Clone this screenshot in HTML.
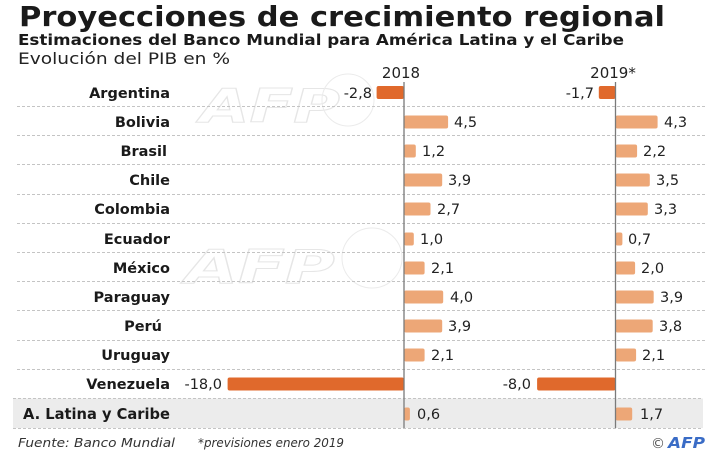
<!DOCTYPE html>
<html><head><meta charset="utf-8"><style>
html,body{margin:0;padding:0;background:#fff;}
svg{display:block;}
</style></head><body>
<svg width="720" height="453" viewBox="0 0 720 453" xmlns="http://www.w3.org/2000/svg" font-family="'DejaVu Sans','Liberation Sans',sans-serif">
<rect width="720" height="453" fill="#fff"/>
<!-- watermarks -->
<g fill="none" stroke="#e6e6e6" stroke-width="1" font-weight="bold" font-style="italic" font-size="46">
<text x="200" y="122" textLength="140" lengthAdjust="spacingAndGlyphs">AFP</text>
<text x="185" y="283" textLength="150" lengthAdjust="spacingAndGlyphs">AFP</text>
</g>
<g fill="none" stroke="#ebebeb" stroke-width="1">
<circle cx="348" cy="100" r="26"/><circle cx="372" cy="258" r="30"/>
</g>
<!-- title -->
<text x="19" y="26" font-size="28" font-weight="bold" fill="#1a1a1a" textLength="646" lengthAdjust="spacingAndGlyphs">Proyecciones de crecimiento regional</text>
<text x="18" y="45" font-size="15.5" font-weight="bold" fill="#1a1a1a" textLength="606" lengthAdjust="spacingAndGlyphs">Estimaciones del Banco Mundial para América Latina y el Caribe</text>
<text x="18" y="64" font-size="16" fill="#222" textLength="212" lengthAdjust="spacingAndGlyphs">Evolución del PIB en %</text>
<text x="401" y="78" font-size="15" fill="#222" text-anchor="middle">2018</text>
<text x="613" y="78" font-size="15" fill="#222" text-anchor="middle">2019*</text>
<!-- band -->
<rect x="13" y="398.5" width="690" height="29.5" fill="#ececec"/>
<!-- separators -->
<g stroke="#c4c4c4" stroke-width="1" stroke-dasharray="3,2">
<line x1="17" x2="705" y1="106.5" y2="106.5"/>
<line x1="17" x2="705" y1="135.5" y2="135.5"/>
<line x1="17" x2="705" y1="164.5" y2="164.5"/>
<line x1="17" x2="705" y1="194.5" y2="194.5"/>
<line x1="17" x2="705" y1="223.5" y2="223.5"/>
<line x1="17" x2="705" y1="252.5" y2="252.5"/>
<line x1="17" x2="705" y1="281.5" y2="281.5"/>
<line x1="17" x2="705" y1="310.5" y2="310.5"/>
<line x1="17" x2="705" y1="340.5" y2="340.5"/>
<line x1="17" x2="705" y1="369.5" y2="369.5"/>
<line x1="13" x2="703" y1="398.5" y2="398.5"/>
<line x1="13" x2="703" y1="428.5" y2="428.5"/>
</g>
<!-- bars 2018 (axis 404, 9.8px/unit) -->
<g fill="#eda777">
<rect x="404" y="115.5" width="44.1" height="13" rx="2"/>
<rect x="404" y="144.5" width="11.8" height="13" rx="2"/>
<rect x="404" y="173.5" width="38.2" height="13" rx="2"/>
<rect x="404" y="202.5" width="26.5" height="13" rx="2"/>
<rect x="404" y="232.5" width="9.8" height="13" rx="2"/>
<rect x="404" y="261.5" width="20.6" height="13" rx="2"/>
<rect x="404" y="290.5" width="39.2" height="13" rx="2"/>
<rect x="404" y="319.5" width="38.2" height="13" rx="2"/>
<rect x="404" y="348.5" width="20.6" height="13" rx="2"/>
<rect x="404" y="407.5" width="5.9" height="13" rx="2"/>
<!-- 2019 (axis 615.5) -->
<rect x="615.5" y="115.5" width="42.1" height="13" rx="2"/>
<rect x="615.5" y="144.5" width="21.6" height="13" rx="2"/>
<rect x="615.5" y="173.5" width="34.3" height="13" rx="2"/>
<rect x="615.5" y="202.5" width="32.3" height="13" rx="2"/>
<rect x="615.5" y="232.5" width="6.9" height="13" rx="2"/>
<rect x="615.5" y="261.5" width="19.6" height="13" rx="2"/>
<rect x="615.5" y="290.5" width="38.2" height="13" rx="2"/>
<rect x="615.5" y="319.5" width="37.2" height="13" rx="2"/>
<rect x="615.5" y="348.5" width="20.6" height="13" rx="2"/>
<rect x="615.5" y="407.5" width="16.7" height="13" rx="2"/>
</g>
<g fill="#e0692c">
<rect x="376.6" y="86" width="27.4" height="13" rx="2"/>
<rect x="227.6" y="377.5" width="176.4" height="13" rx="2"/>
<rect x="598.8" y="86" width="16.7" height="13" rx="2"/>
<rect x="537.1" y="377.5" width="78.4" height="13" rx="2"/>
</g>
<!-- axes -->
<line x1="404" x2="404" y1="82" y2="428" stroke="#7a7a7a" stroke-width="1.3"/>
<line x1="615.5" x2="615.5" y1="82" y2="428" stroke="#7a7a7a" stroke-width="1.3"/>
<!-- country labels -->
<g font-size="14.5" font-weight="bold" fill="#1a1a1a" text-anchor="end">
<text x="170" y="98">Argentina</text>
<text x="170" y="127">Bolivia</text>
<text x="167" y="156">Brasil</text>
<text x="170" y="185">Chile</text>
<text x="170" y="214">Colombia</text>
<text x="170" y="244">Ecuador</text>
<text x="170" y="273">México</text>
<text x="170" y="302">Paraguay</text>
<text x="162" y="331">Perú</text>
<text x="170" y="360">Uruguay</text>
<text x="170" y="389">Venezuela</text>
</g>
<text x="23" y="419" font-size="15" font-weight="bold" fill="#1a1a1a" textLength="147" lengthAdjust="spacingAndGlyphs">A. Latina y Caribe</text>
<!-- values -->
<g font-size="14.5" fill="#222">
<text x="372" y="98" text-anchor="end">-2,8</text>
<text x="222" y="389" text-anchor="end">-18,0</text>
<text x="594" y="98" text-anchor="end">-1,7</text>
<text x="531" y="389" text-anchor="end">-8,0</text>
<text x="454" y="127">4,5</text>
<text x="422" y="156">1,2</text>
<text x="448" y="185">3,9</text>
<text x="437" y="214">2,7</text>
<text x="420" y="244">1,0</text>
<text x="431" y="273">2,1</text>
<text x="450" y="302">4,0</text>
<text x="448" y="331">3,9</text>
<text x="431" y="360">2,1</text>
<text x="417" y="419">0,6</text>
<text x="664" y="127">4,3</text>
<text x="643" y="156">2,2</text>
<text x="656" y="185">3,5</text>
<text x="654" y="214">3,3</text>
<text x="628" y="244">0,7</text>
<text x="641" y="273">2,0</text>
<text x="660" y="302">3,9</text>
<text x="659" y="331">3,8</text>
<text x="642" y="360">2,1</text>
<text x="640" y="419">1,7</text>
</g>
<!-- footer -->
<g font-size="12.5" font-style="italic" fill="#333">
<text x="18" y="447" textLength="157" lengthAdjust="spacingAndGlyphs">Fuente: Banco Mundial</text>
<text x="198" y="447" textLength="146" lengthAdjust="spacingAndGlyphs">*previsiones enero 2019</text>
</g>
<text x="651" y="448" font-size="14" fill="#555">©</text>
<text x="668" y="448" font-size="15" font-weight="bold" font-style="italic" fill="#3a6cc6" textLength="37" lengthAdjust="spacingAndGlyphs">AFP</text>
</svg>
</body></html>
